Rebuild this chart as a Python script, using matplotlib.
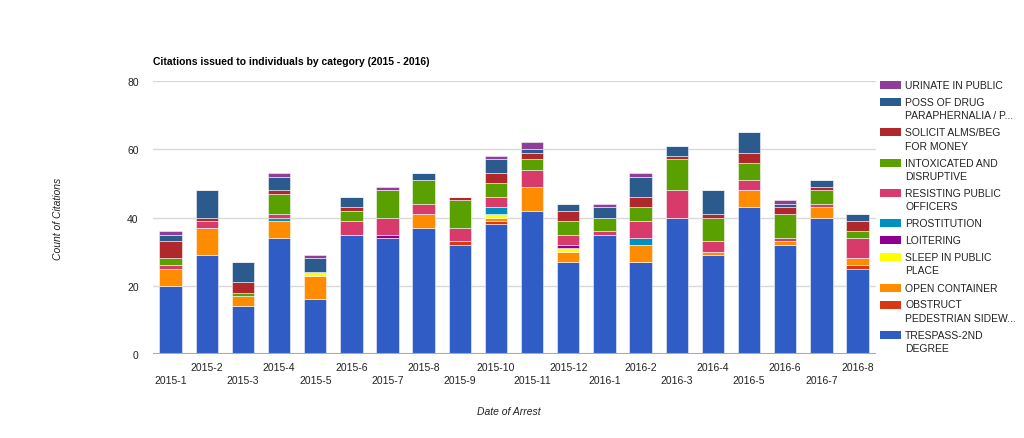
import numpy as np
import matplotlib
matplotlib.use("Agg")
from matplotlib import pyplot as plt
from matplotlib.patches import Rectangle

plt.rcParams['font.family'] = ['Liberation Sans', 'DejaVu Sans']

months = ['2015-1', '2015-2', '2015-3', '2015-4', '2015-5', '2015-6', '2015-7',
          '2015-8', '2015-9', '2015-10', '2015-11', '2015-12', '2016-1', '2016-2',
          '2016-3', '2016-4', '2016-5', '2016-6', '2016-7', '2016-8']

# stacked bottom -> top
trespass = [20, 29, 14, 34, 16, 35, 34, 37, 32, 38, 42, 27, 35, 27, 40, 29, 43, 32, 40, 25]
obstruct = [0, 0, 0, 0, 0, 0, 0, 0, 1, 1, 0, 0, 0, 0, 0, 0, 0, 0, 0, 1]
open_container = [5, 8, 3, 5, 7, 0, 0, 4, 0, 1, 7, 3, 0, 5, 0, 1, 5, 1, 3, 2]
sleep_public = [0, 0, 0, 0, 1, 0, 0, 0, 0, 1, 0, 1, 0, 0, 0, 0, 0, 0, 0, 0]
loitering = [0, 0, 0, 0, 0, 0, 1, 0, 0, 0, 0, 1, 0, 0, 0, 0, 0, 0, 0, 0]
prostitution = [0, 0, 0, 1, 0, 0, 0, 0, 0, 2, 0, 0, 0, 2, 0, 0, 0, 0, 0, 0]
resisting = [1, 2, 0, 1, 0, 4, 5, 3, 4, 3, 5, 3, 1, 5, 8, 3, 3, 1, 1, 6]
intoxicated = [2, 0, 1, 6, 0, 3, 8, 7, 8, 4, 3, 4, 4, 4, 9, 7, 5, 7, 4, 2]
solicit = [5, 1, 3, 1, 0, 1, 0, 0, 1, 3, 2, 3, 0, 3, 1, 1, 3, 2, 1, 3]
poss_drug = [2, 8, 6, 4, 4, 3, 0, 2, 0, 4, 1, 2, 3, 6, 3, 7, 6, 1, 2, 2]
urinate = [1, 0, 0, 1, 1, 0, 1, 0, 0, 1, 2, 0, 1, 1, 0, 0, 0, 1, 0, 0]

series = [
    (trespass, '#2f5dc5', 'TRESPASS-2ND\nDEGREE'),
    (obstruct, '#d73a12', 'OBSTRUCT\nPEDESTRIAN SIDEW...'),
    (open_container, '#ff8c00', 'OPEN CONTAINER'),
    (sleep_public, '#ffff00', 'SLEEP IN PUBLIC\nPLACE'),
    (loitering, '#900090', 'LOITERING'),
    (prostitution, '#0090c0', 'PROSTITUTION'),
    (resisting, '#d83a6c', 'RESISTING PUBLIC\nOFFICERS'),
    (intoxicated, '#5aa000', 'INTOXICATED AND\nDISRUPTIVE'),
    (solicit, '#b0282b', 'SOLICIT ALMS/BEG\nFOR MONEY'),
    (poss_drug, '#2b5a8c', 'POSS OF DRUG\nPARAPHERNALIA / P...'),
    (urinate, '#8e3e96', 'URINATE IN PUBLIC'),
]

W, H = 1024, 439
fig = plt.figure(figsize=(W / 100, H / 100), dpi=100)
ax = fig.add_axes([0.149, 0.1913, 0.706, 0.6219])

x = np.arange(len(months))
bottom = np.zeros(len(months))
for vals, color, label in series:
    vals = np.array(vals, dtype=float)
    ax.bar(x, vals, 0.62, bottom=bottom, color=color,
           edgecolor=(1, 1, 1, 0.6), linewidth=0.6, label=label, zorder=3)
    bottom += vals

ax.set_xlim(-0.5, len(months) - 0.5)
ax.set_ylim(0, 80)
ax.set_yticks([0, 20, 40, 60, 80])
ax.grid(axis='y', color='#d9d9d9', linewidth=1, zorder=0)
ax.axhline(0, color='#aaaaaa', linewidth=1.5, zorder=4)
for s in ax.spines.values():
    s.set_visible(False)
ax.tick_params(axis='both', length=0, labelsize=7.5, colors='#222222')
ax.tick_params(axis='y', pad=10)
ax.set_xticks([])

# staggered x labels
for i, m in enumerate(months):
    yoff = -0.095 if i % 2 == 0 else -0.047
    ax.text(i, yoff, m, transform=ax.get_xaxis_transform(), ha='center', va='center',
            fontsize=7.5, color='#222222')

ax.set_ylabel('Count of Citations', fontsize=7.5, style='italic', color='#222222')
ax.yaxis.set_label_coords(-0.124, 0.5)
fig.text(0.497, 0.061, 'Date of Arrest', fontsize=7.5, style='italic', color='#222222',
         ha='center', va='center')
fig.text(0.149, 0.858, 'Citations issued to individuals by category (2015 - 2016)',
         fontsize=7.5, fontweight='bold', ha='left', va='center')

# legend drawn by hand so the swatch sits on the first text line
ypix = 86.0
for vals, color, label in series[::-1]:
    fig.patches.append(Rectangle((880 / W, 1 - (ypix + 4) / H), 21 / W, 8 / H,
                                 transform=fig.transFigure, facecolor=color,
                                 edgecolor='none', figure=fig))
    lines = label.split('\n')
    for k, line in enumerate(lines):
        fig.text(905 / W, 1 - (ypix + k * 13.3) / H, line, fontsize=7.5, color='#222222',
                 ha='left', va='center')
    ypix += 13.3 * (len(lines) - 1) + 17.0

fig.savefig('out.png', dpi=100)
